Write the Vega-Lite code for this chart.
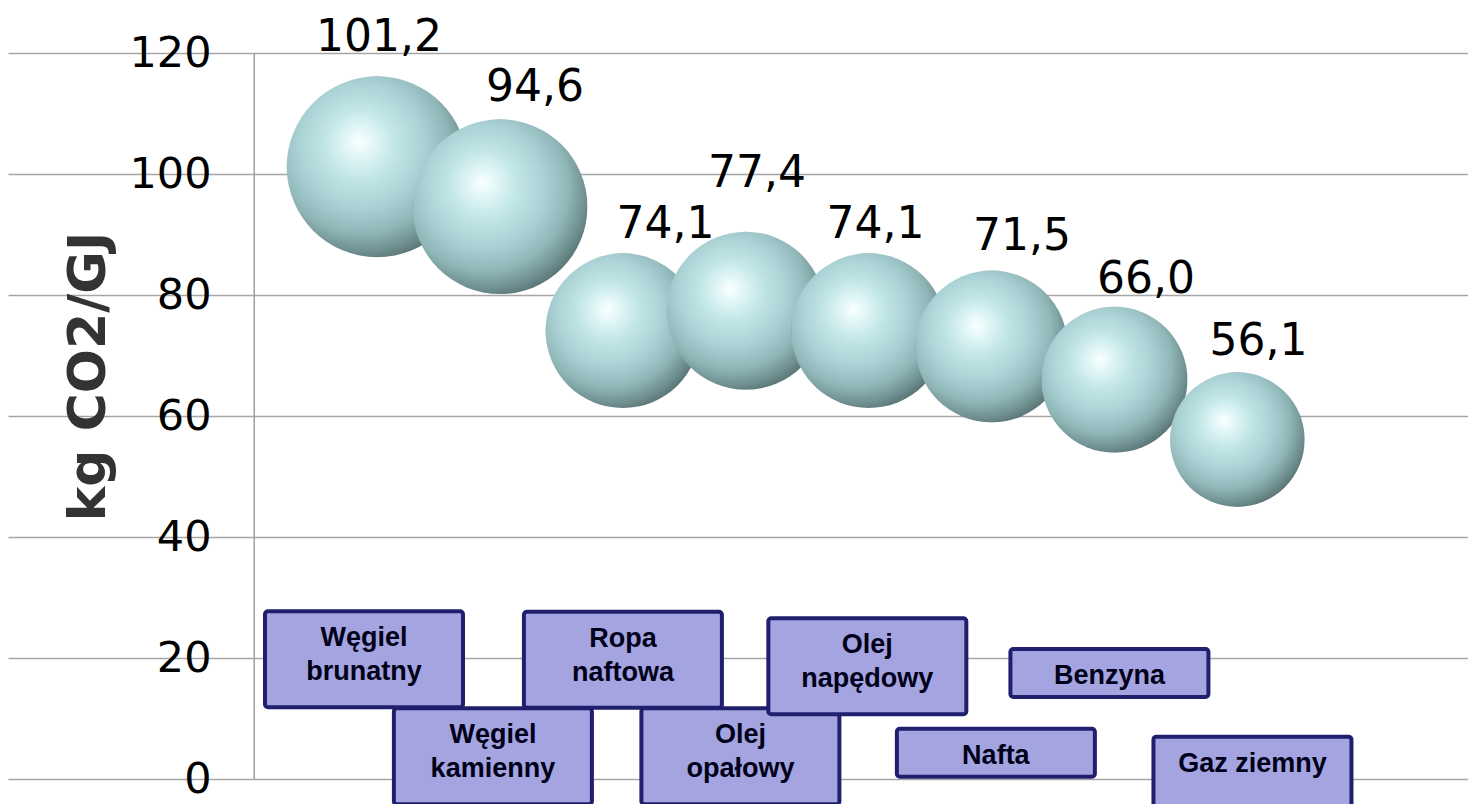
{
  "$schema": "https://vega.github.io/schema/vega-lite/v6.json",
  "width": 1460,
  "height": 726,
  "autosize": {"type": "none"},
  "padding": {"left": 8, "top": 53, "right": 0, "bottom": 25},
  "background": "#ffffff",
  "config": {
    "view": {"stroke": null},
    "locale": {
      "number": {"decimal": ",", "thousands": " ", "grouping": [3], "currency": ["", " zł"]}
    }
  },
  "data": {
    "values": [
      {"paliwo": "Węgiel brunatny", "label": "Węgiel\nbrunatny", "lines": 2, "idx": 1, "value": 101.2, "lx": 1.015, "ly": 120.4, "bx": 0.893, "by": 19.79},
      {"paliwo": "Węgiel kamienny", "label": "Węgiel\nkamienny", "lines": 2, "idx": 2, "value": 94.6, "lx": 2.284, "ly": 112.0, "bx": 1.942, "by": 3.75},
      {"paliwo": "Ropa naftowa", "label": "Ropa\nnaftowa", "lines": 2, "idx": 3, "value": 74.1, "lx": 3.346, "ly": 89.4, "bx": 3.0, "by": 19.71},
      {"paliwo": "Olej opałowy", "label": "Olej\nopałowy", "lines": 2, "idx": 4, "value": 77.4, "lx": 4.091, "ly": 97.9, "bx": 3.956, "by": 3.75},
      {"paliwo": "Olej napędowy", "label": "Olej\nnapędowy", "lines": 2, "idx": 5, "value": 74.1, "lx": 5.055, "ly": 89.4, "bx": 4.989, "by": 18.65},
      {"paliwo": "Nafta", "label": "Nafta", "lines": 1, "idx": 6, "value": 71.5, "lx": 6.248, "ly": 87.4, "bx": 6.035, "by": 4.33},
      {"paliwo": "Benzyna", "label": "Benzyna", "lines": 1, "idx": 7, "value": 66.0, "lx": 7.257, "ly": 80.3, "bx": 6.959, "by": 17.53},
      {"paliwo": "Gaz ziemny", "label": "Gaz ziemny", "lines": 2, "idx": 8, "value": 56.1, "lx": 8.172, "ly": 70.1, "bx": 8.123, "by": -0.93}
    ]
  },
  "layer": [
    {
      "data": {"values": [{"x": 0, "y0": 0, "y1": 120}]},
      "mark": {"type": "rule", "color": "#a0a0a0", "strokeWidth": 1.5},
      "encoding": {
        "x": {"field": "x", "type": "quantitative", "scale": {"domain": [-2.004, 9.877], "nice": false, "zero": false}, "axis": null},
        "y": {
          "field": "y0",
          "type": "quantitative",
          "scale": {"domain": [0, 120], "nice": false},
          "axis": {
            "orient": "left",
            "values": [0, 20, 40, 60, 80, 100, 120],
            "grid": true,
            "gridColor": "#a6a6a6",
            "gridWidth": 1.5,
            "domain": false,
            "ticks": false,
            "tickSize": 0,
            "labelPadding": -203,
            "labelAlign": "right",
            "labelBaseline": "middle",
            "labelFont": "DejaVu Sans",
            "labelFontSize": 43,
            "labelColor": "#000000",
            "labelOverlap": false,
            "labelFlush": false,
            "title": "kg CO2/GJ",
            "titleFont": "DejaVu Sans",
            "titleFontWeight": "bold",
            "titleFontSize": 52,
            "titleColor": "#333333",
            "titleAngle": -90,
            "titleX": 96,
            "titleY": 323,
            "titleAlign": "center",
            "titleBaseline": "alphabetic"
          }
        },
        "y2": {"field": "y1"}
      }
    },
    {
      "mark": {
        "type": "circle",
        "opacity": 1,
        "stroke": null,
        "fill": {
          "gradient": "radial",
          "x1": 0.4, "y1": 0.36, "r1": 0,
          "x2": 0.42, "y2": 0.4, "r2": 0.64,
          "stops": [
            {"offset": 0, "color": "#fbffff"},
            {"offset": 0.1, "color": "#e6f8f9"},
            {"offset": 0.3, "color": "#c3e6e8"},
            {"offset": 0.55, "color": "#a9d1d3"},
            {"offset": 0.75, "color": "#8fb5b7"},
            {"offset": 0.9, "color": "#6f8e90"},
            {"offset": 1, "color": "#56706f"}
          ]
        }
      },
      "encoding": {
        "x": {"field": "idx", "type": "quantitative"},
        "y": {"field": "value", "type": "quantitative"},
        "size": {"field": "value", "type": "quantitative", "scale": {"domain": [0, 100], "range": [0, 32300], "zero": true}, "legend": null}
      }
    },
    {
      "mark": {"type": "text", "font": "DejaVu Sans", "fontSize": 44, "color": "#000000", "align": "center", "baseline": "alphabetic"},
      "encoding": {
        "x": {"field": "lx", "type": "quantitative"},
        "y": {"field": "ly", "type": "quantitative"},
        "text": {"field": "value", "type": "quantitative", "format": ".1f"}
      }
    },
    {
      "transform": [{"filter": "datum.lines == 2"}],
      "mark": {"type": "rect", "width": 198, "height": 96, "fill": "#a4a4e0", "stroke": "#1f1f6e", "strokeWidth": 4, "cornerRadius": 3},
      "encoding": {
        "x": {"field": "bx", "type": "quantitative"},
        "y": {"field": "by", "type": "quantitative"},
        "order": {"field": "by", "type": "quantitative", "sort": "ascending"}
      }
    },
    {
      "transform": [{"filter": "datum.lines == 1"}],
      "mark": {"type": "rect", "width": 198, "height": 48, "fill": "#a4a4e0", "stroke": "#1f1f6e", "strokeWidth": 4, "cornerRadius": 3},
      "encoding": {
        "x": {"field": "bx", "type": "quantitative"},
        "y": {"field": "by", "type": "quantitative"}
      }
    },
    {
      "transform": [{"filter": "datum.lines == 2"}],
      "mark": {"type": "text", "font": "Liberation Sans", "fontWeight": "bold", "fontSize": 27, "lineHeight": 34, "lineBreak": "\n", "color": "#000018", "align": "center", "baseline": "middle", "dy": -21},
      "encoding": {
        "x": {"field": "bx", "type": "quantitative"},
        "y": {"field": "by", "type": "quantitative"},
        "text": {"field": "label", "type": "nominal"}
      }
    },
    {
      "transform": [{"filter": "datum.lines == 1"}],
      "mark": {"type": "text", "font": "Liberation Sans", "fontWeight": "bold", "fontSize": 27, "color": "#000018", "align": "center", "baseline": "middle", "dy": 3},
      "encoding": {
        "x": {"field": "bx", "type": "quantitative"},
        "y": {"field": "by", "type": "quantitative"},
        "text": {"field": "label", "type": "nominal"}
      }
    }
  ]
}
